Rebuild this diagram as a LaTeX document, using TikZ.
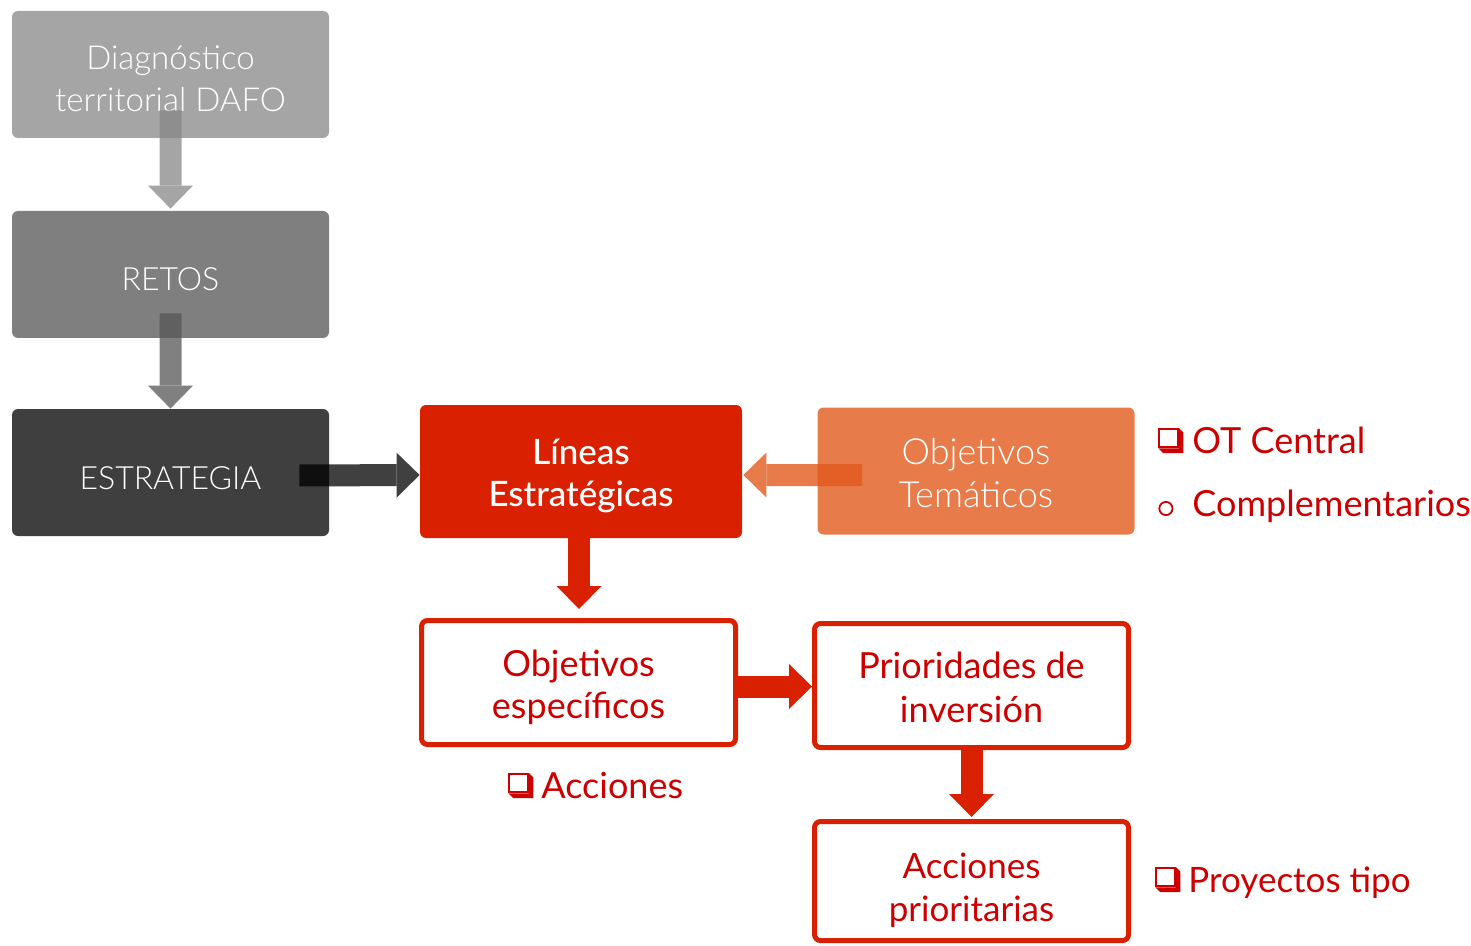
\documentclass[tikz,border=0pt]{standalone}
\usepackage{fontspec}
\setmainfont{Lato}
\newfontfamily\lightf{Lato Light}
\IfFontExistsTF{Lato Medium}{\newfontfamily\medf{Lato Medium}}{\newfontfamily\medf{Lato}}
\usetikzlibrary{arrows.meta,calc}
\definecolor{g1}{HTML}{A5A5A5}
\definecolor{g2}{HTML}{7F7F7F}
\definecolor{g3}{HTML}{3F3F3F}
\definecolor{redf}{HTML}{D92000}
\definecolor{orf}{HTML}{E77B4A}
\definecolor{redt}{HTML}{CC0000}
\definecolor{a1}{RGB}{135,135,135}
\definecolor{a2}{RGB}{86,86,86}
\definecolor{a3}{RGB}{0,0,0}
\definecolor{a4}{RGB}{225,90,29}
\newcommand\qbox{\tikz[baseline=0pt,x=1pt,y=1pt]{%
  \fill (0,2.3) -- (2.3,0) -- (12.5,0) -- (12.5,10.2) -- (10.2,12.5) -- (10.2,2.3) -- cycle;
  \draw[line width=1pt] (0.5,2.8) rectangle (9.7,12);}}
\newcommand\obul{\tikz[baseline=0pt,x=1pt,y=1pt]{\draw[line width=0.9pt] (3.75,3.75) circle (3.3);}}
\tikzset{
  box/.style={rectangle, rounded corners=3pt, inner sep=0pt, align=center,
    minimum width=158.5pt, minimum height=63.5pt, text depth=0pt},
  greybox/.style={box, text=white, font=\lightf\fontsize{16}{21}\selectfont},
  redbox/.style={box, draw=redf, line width=2.5pt, fill=white, text=redt,
    minimum width=157pt, minimum height=62pt},
  blk/.style={line width=11pt, line cap=butt,
    -{Triangle[width=22.5pt,length=11.5pt,line width=0pt]}},
  side/.style={anchor=base west, inner sep=0pt, text=redt, font=\fontsize{18}{22}\selectfont},
}
\begin{document}
\begin{tikzpicture}[x=0.5pt,y=-0.5pt]
\useasboundingbox (0,0) rectangle (1471,946);
% nodes
\node[greybox, fill=g1, text height=37pt, font=\lightf\fontsize{16.5}{21}\selectfont]
  (diag) at (170.5,74.5) {Diagnóstico\\territorial DAFO};
\node[greybox, fill=g2, text height=16.5pt] (retos) at (170.5,274.5) {RETOS};
\node[greybox, fill=g3, text height=17pt] (estr) at (170.5,472.5) {ESTRATEGIA};
\node[box, fill=redf, text=white, minimum width=161pt, minimum height=66.5pt,
  text height=34.5pt, font=\medf\fontsize{17.5}{20.8}\selectfont] (lin) at (581,471.5) {Líneas\\Estratégicas};
\node[greybox, fill=orf, text height=36pt, font=\lightf\fontsize{18}{21.5}\selectfont]
  (otem) at (976,471) {Objetivos\\Temáticos};
\node[redbox, text height=36pt, font=\fontsize{18}{20.8}\selectfont] (oesp) at (578.5,682.5) {Objetivos\\específicos};
\node[redbox, text height=37pt, font=\fontsize{18}{22}\selectfont] (prio) at (971.5,685.5) {Prioridades de\\inversión};
\node[redbox, minimum height=59.5pt, text height=40pt, font=\fontsize{17.5}{21.5}\selectfont]
  (accp) at (971.5,881) {Acciones\\prioritarias};
% side labels
\node[side] (otc) at (1158,453) {\makebox[17pt][l]{\qbox}OT Central};
\node[side] (comp) at (1158,516) {\makebox[17pt][l]{\obul}Complementarios};
\node[side] (acc) at (508,798) {\makebox[16.5pt][l]{\qbox}Acciones};
\node[side, font=\fontsize{17.5}{21}\selectfont] (proy) at (1155,892) {\makebox[16.5pt][l]{\qbox}Proyectos tipo};
% arrows (semi-transparent ones overlap their source box)
\begin{scope}[transparency group, opacity=0.75]
\draw[blk, a1] ($(diag.south)+(0,-28)$) -- ($(retos.north)+(0,-2)$);
\end{scope}
\begin{scope}[transparency group, opacity=0.75]
\draw[blk, a2] ($(retos.south)+(0,-25)$) -- ($(estr.north)+(0,0)$);
\end{scope}
\begin{scope}[transparency group, opacity=0.75]
\draw[blk, a3] ($(estr.east)+(-30,3)$) -- ($(lin.west)+(0,3.5)$);
\end{scope}
\begin{scope}[transparency group, opacity=0.8]
\draw[blk, a4] ($(otem.west)+(45,4)$) -- ($(lin.east)+(1,3.5)$);
\end{scope}
\draw[blk, redf] (lin.south -| 579,0) -- ($(oesp.north)+(0.5,-9)$);
\draw[blk, redf] ($(oesp.east)+(0,4)$) -- ($(prio.west)+(0,1)$);
\draw[blk, redf] (prio.south) -- ($(accp.north)+(0,-2)$);
\end{tikzpicture}
\end{document}
